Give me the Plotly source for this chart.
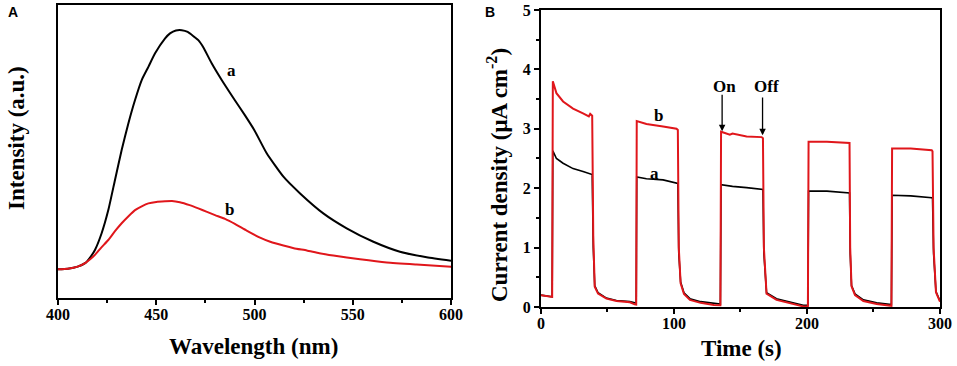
import plotly.graph_objects as go

# ---------------- Panel A data (PL spectra) ----------------
wl_a = [400, 405, 410, 414, 416.5, 418.8, 422.2, 425.6, 429, 432.4, 435.8, 439.2, 442.6, 446, 449.4,
        454.5, 457, 460, 463, 466, 469, 471.4, 474, 478.2, 483.3, 490, 495, 500, 506.2, 514.7, 523.2,
        535, 546.9, 560.5, 574, 587.6, 600]
int_a = [0.098, 0.100, 0.107, 0.120, 0.140, 0.164, 0.221, 0.300, 0.403, 0.505, 0.596, 0.676, 0.744, 0.789, 0.835,
         0.886, 0.903, 0.913, 0.914, 0.908, 0.893, 0.880, 0.855, 0.801, 0.744, 0.675, 0.625, 0.572, 0.494, 0.414, 0.357,
         0.289, 0.238, 0.192, 0.158, 0.139, 0.127]

wl_b = [400, 405, 410, 414, 416.5, 418.8, 422, 425.6, 429, 432.4, 436, 439.2, 442.6, 446, 450, 454.5,
        458, 462, 467, 471.4, 475.5, 479.9, 485, 490, 496, 502.8, 508, 514.7, 520, 526.6, 533, 540.1,
        553.7, 567.3, 582.5, 600]
int_b = [0.098, 0.100, 0.107, 0.120, 0.133, 0.147, 0.172, 0.198, 0.228, 0.255, 0.280, 0.300, 0.313, 0.323, 0.328, 0.330,
         0.331, 0.327, 0.317, 0.306, 0.295, 0.283, 0.270, 0.253, 0.230, 0.206, 0.192, 0.179, 0.170, 0.162, 0.153, 0.145,
         0.132, 0.121, 0.114, 0.107]

# ---------------- Panel B data (photocurrent) ----------------
time_s = [0, 3, 7, 8.4, 8.9, 11.6, 16.6, 24.1, 31.6, 36, 37, 38.5, 39.3, 40.4, 42.9, 49.2, 56.7, 66.8, 70.5,
          71.6, 72.0, 79.3, 91.8, 101.9, 102.9, 103.6, 105, 107.5, 112, 120, 130, 134.9, 135.4, 142, 144,
          154.6, 165.9, 166.9, 167.6, 169.6, 177.1, 187.2, 197.2, 200.7, 201.2, 215, 232.0, 232.5, 233.5,
          236.1, 242.4, 252.4, 262.4, 263.5, 264.0, 278, 293.8, 294.4, 295.2, 297, 300]
current_b = [0.20, 0.19, 0.17, 0.17, 3.80, 3.60, 3.46, 3.34, 3.26, 3.21, 3.25, 3.22, 1.2, 0.34, 0.225, 0.14,
             0.10, 0.08, 0.045, 0.04, 3.13, 3.08, 3.04, 3.00, 2.98, 1.0, 0.4, 0.22, 0.12, 0.07, 0.035, 0.03,
             2.95, 2.90, 2.92, 2.87, 2.86, 2.84, 1.0, 0.225, 0.12, 0.06, 0.01, 0.01, 2.78, 2.78, 2.76, 1.0,
             0.35, 0.20, 0.10, 0.05, 0.02, 0.02, 2.67, 2.67, 2.64, 2.62, 1.0, 0.25, 0.09]
current_a = [0.20, 0.19, 0.17, 0.17, 2.63, 2.50, 2.42, 2.33, 2.28, 2.25, 2.24, 2.23, 1.0, 0.36, 0.24, 0.15,
             0.11, 0.09, 0.07, 0.06, 2.19, 2.16, 2.14, 2.09, 2.08, 0.9, 0.42, 0.24, 0.14, 0.09, 0.06, 0.05,
             2.06, 2.03, 2.03, 2.01, 1.99, 1.98, 0.9, 0.24, 0.14, 0.08, 0.03, 0.03, 1.95, 1.95, 1.92, 0.9,
             0.36, 0.22, 0.12, 0.07, 0.04, 0.04, 1.88, 1.87, 1.84, 1.83, 0.9, 0.26, 0.10]
assert len(time_s) == len(current_a) == len(current_b)

SERIF = "Times New Roman, Liberation Serif, serif"
RED = "#e0161b"

fig = go.Figure()
fig.add_trace(go.Scatter(x=wl_a, y=int_a, mode="lines", line=dict(color="black", width=2, shape="spline", smoothing=0.5),
                         xaxis="x", yaxis="y", showlegend=False, hoverinfo="skip"))
fig.add_trace(go.Scatter(x=wl_b, y=int_b, mode="lines", line=dict(color=RED, width=2, shape="spline", smoothing=0.5),
                         xaxis="x", yaxis="y", showlegend=False, hoverinfo="skip"))
fig.add_trace(go.Scatter(x=time_s, y=current_a, mode="lines", line=dict(color="black", width=1.6),
                         xaxis="x2", yaxis="y2", showlegend=False, hoverinfo="skip"))
fig.add_trace(go.Scatter(x=time_s, y=current_b, mode="lines", line=dict(color=RED, width=2),
                         xaxis="x2", yaxis="y2", showlegend=False, hoverinfo="skip"))

tickfont = dict(family=SERIF, size=16, color="black", weight="bold")
axis_common = dict(showline=True, linecolor="black", linewidth=2, mirror=True, showgrid=False,
                   zeroline=False, ticklen=5, tickwidth=1.5, tickcolor="black",
                   tickfont=tickfont)

fig.update_layout(
    width=957, height=366,
    margin=dict(l=0, r=0, t=0, b=0, autoexpand=False),
    paper_bgcolor="white", plot_bgcolor="white",
    xaxis=dict(domain=[0.0606, 0.4713], range=[400, 600], tickvals=[400, 450, 500, 550, 600], ticks="outside",
               ticklabelstandoff=-4,
               minor=dict(tickvals=[425, 475, 525, 575], ticklen=3, ticks="outside", tickcolor="black"),
               anchor="y", **axis_common),
    yaxis=dict(domain=[0.1858, 0.9863], range=[0, 1], showticklabels=False, ticks="",
               anchor="x", **axis_common),
    xaxis2=dict(domain=[0.5653, 0.9822], range=[0, 300], tickvals=[0, 100, 200, 300], ticks="outside",
                ticklabelstandoff=-4,
                minor=dict(tickvals=[50, 150, 250], ticklen=3, ticks="outside", tickcolor="black"),
                anchor="y2", **axis_common),
    yaxis2=dict(domain=[0.1612, 0.9727], range=[0, 5], tickvals=[0, 1, 2, 3, 4, 5], ticks="outside",
                minor=dict(tickvals=[0.5, 1.5, 2.5, 3.5, 4.5], ticklen=3, ticks="outside", tickcolor="black"),
                anchor="x2", **axis_common),
)

title_font = dict(family=SERIF, size=23, color="black", weight="bold")
label_font = dict(family=SERIF, size=17, color="black", weight="bold")
panel_font = dict(family="Liberation Sans, Arial, sans-serif", size=14, color="black", weight="bold")

ann = [
    # axis titles
    dict(text="Wavelength (nm)", x=254 / 957, y=(366 - 346) / 366, xref="paper", yref="paper",
         showarrow=False, font=title_font, xanchor="center", yanchor="middle"),
    dict(text="Intensity (a.u.)", x=16 / 957, y=(366 - 138) / 366, xref="paper", yref="paper",
         showarrow=False, font=title_font, textangle=-90, xanchor="center", yanchor="middle"),
    dict(text="Time (s)", x=741 / 957, y=(366 - 348) / 366, xref="paper", yref="paper",
         showarrow=False, font=title_font, xanchor="center", yanchor="middle"),
    dict(text="Current density (μA cm<sup>-2</sup>)", x=497 / 957, y=(366 - 175) / 366, xref="paper", yref="paper",
         showarrow=False, font=title_font, textangle=-90, xanchor="center", yanchor="middle"),
    # panel letters
    dict(text="A", x=13 / 957, y=(366 - 12) / 366, xref="paper", yref="paper", showarrow=False,
         font=panel_font, xanchor="center", yanchor="middle"),
    dict(text="B", x=490 / 957, y=(366 - 12) / 366, xref="paper", yref="paper", showarrow=False,
         font=panel_font, xanchor="center", yanchor="middle"),
    # curve labels panel A
    dict(text="a", x=488.4, y=0.778, xref="x", yref="y", showarrow=False, font=label_font),
    dict(text="b", x=487.5, y=0.303, xref="x", yref="y", showarrow=False, font=label_font),
    # curve labels panel B
    dict(text="b", x=88.3, y=3.23, xref="x2", yref="y2", showarrow=False, font=label_font),
    dict(text="a", x=85.6, y=2.25, xref="x2", yref="y2", showarrow=False, font=label_font),
    dict(text="On", x=138.3, y=3.72, xref="x2", yref="y2", showarrow=False, font=label_font),
    dict(text="Off", x=169.6, y=3.71, xref="x2", yref="y2", showarrow=False, font=label_font),
    # arrows
    dict(text="", x=136.2, y=2.96, ax=136.2, ay=3.6, xref="x2", yref="y2", axref="x2", ayref="y2",
         showarrow=True, arrowhead=2, arrowsize=1, arrowwidth=1.3, arrowcolor="black"),
    dict(text="", x=166.6, y=2.89, ax=166.6, ay=3.55, xref="x2", yref="y2", axref="x2", ayref="y2",
         showarrow=True, arrowhead=2, arrowsize=1, arrowwidth=1.3, arrowcolor="black"),
]
fig.update_layout(annotations=ann)

fig.write_html("out.html", config={"displayModeBar": False},
               post_script="document.body.style.margin='0px';")
